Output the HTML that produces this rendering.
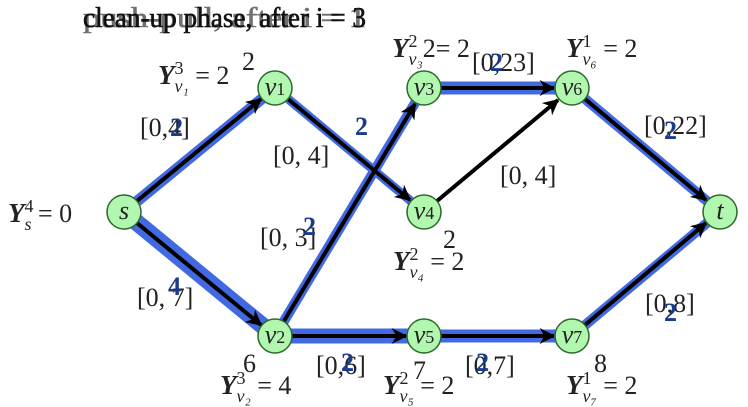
<!DOCTYPE html>
<html><head><style>
body{margin:0;background:#fff}
svg{display:block}
text{font-family:"Liberation Serif",serif;font-size:26px;fill:#222}
.b{fill:#1a3a8a;font-weight:bold}
.i{font-style:italic}
.Y{font-weight:bold;font-style:italic;font-size:27px}
.s{font-size:18px}
.t{font-size:28px;fill:#111;stroke:#111;stroke-width:0.6}
</style></head><body>
<svg width="748" height="407" viewBox="0 0 748 407">
<defs><marker id="a" viewBox="0 0 10 10" refX="9" refY="5" markerWidth="4" markerHeight="4" orient="auto"><path d="M0,0L10,5L0,10L3,5z" fill="#000"/></marker></defs>
<g stroke="#4169e1" stroke-linecap="butt">
<line x1="124" y1="212" x2="275" y2="88" stroke-width="11"/>
<line x1="275" y1="88" x2="424" y2="212" stroke-width="9"/>
<line x1="124" y1="212" x2="275" y2="336" stroke-width="17"/>
<line x1="275" y1="336" x2="424" y2="88" stroke-width="10"/>
<line x1="424" y1="88" x2="572" y2="88" stroke-width="13"/>
<line x1="572" y1="88" x2="720" y2="212" stroke-width="10"/>
<line x1="275" y1="336" x2="424" y2="336" stroke-width="15"/>
<line x1="424" y1="336" x2="572" y2="336" stroke-width="13"/>
<line x1="572" y1="336" x2="720" y2="212" stroke-width="10"/>
</g>
<g stroke="#000" stroke-width="4" marker-end="url(#a)">
<line x1="137" y1="201" x2="261" y2="99"/>
<line x1="288" y1="99" x2="410" y2="200"/>
<line x1="137" y1="223" x2="261" y2="325"/>
<line x1="284" y1="321" x2="415" y2="104"/>
<line x1="441" y1="88" x2="554" y2="88"/>
<line x1="437" y1="201" x2="558" y2="100"/>
<line x1="585" y1="99" x2="706" y2="200"/>
<line x1="292" y1="336" x2="406" y2="336"/>
<line x1="441" y1="336" x2="554" y2="336"/>
<line x1="585" y1="325" x2="706" y2="223"/>
</g>
<g fill="#b2f7b0" stroke="#2a6a2a" stroke-width="1.5">
<circle cx="124" cy="212" r="17"/><circle cx="275" cy="88" r="17"/><circle cx="275" cy="336" r="17"/>
<circle cx="424" cy="88" r="17"/><circle cx="424" cy="212" r="17"/><circle cx="424" cy="336" r="17"/>
<circle cx="572" cy="88" r="17"/><circle cx="572" cy="336" r="17"/><circle cx="720" cy="212" r="17"/>
</g>
<g text-anchor="middle">
<text x="124" y="219" class="i">s</text><text x="275" y="95" class="i">v<tspan class="s" font-style="normal">1</tspan></text>
<text x="275" y="343" class="i">v<tspan class="s" font-style="normal">2</tspan></text><text x="424" y="95" class="i">v<tspan class="s" font-style="normal">3</tspan></text>
<text x="424" y="219" class="i">v<tspan class="s" font-style="normal">4</tspan></text><text x="424" y="343" class="i">v<tspan class="s" font-style="normal">5</tspan></text>
<text x="572" y="95" class="i">v<tspan class="s" font-style="normal">6</tspan></text><text x="572" y="343" class="i">v<tspan class="s" font-style="normal">7</tspan></text>
<text x="720" y="219" class="i">t</text>
</g>
<text x="83" y="27" class="t" textLength="283" lengthAdjust="spacingAndGlyphs">clean-up phase, after i = 3</text>
<text x="83" y="27" class="t" textLength="283" lengthAdjust="spacingAndGlyphs" opacity="0.6">push-pull, after i = 1</text>
<text x="8" y="222"><tspan class="Y">Y</tspan><tspan class="s" dy="-10">4</tspan><tspan class="s i" dx="-9" dy="18">s</tspan><tspan dy="-8"> = 0</tspan></text>
<text x="158" y="84"><tspan class="Y">Y</tspan><tspan class="s" dy="-10">3</tspan><tspan class="s i" dx="-9" dy="18">v₁</tspan><tspan dy="-8"> = 2</tspan></text>
<text x="242" y="70">2</text>
<text x="392" y="57"><tspan class="Y">Y</tspan><tspan class="s" dy="-10">2</tspan><tspan class="s i" dx="-9" dy="18">v₃</tspan><tspan dy="-8">2= 2</tspan></text>
<text x="566" y="57"><tspan class="Y">Y</tspan><tspan class="s" dy="-10">1</tspan><tspan class="s i" dx="-9" dy="18">v₆</tspan><tspan dy="-8"> = 2</tspan></text>
<text x="393" y="270"><tspan class="Y">Y</tspan><tspan class="s" dy="-10">2</tspan><tspan class="s i" dx="-9" dy="18">v₄</tspan><tspan dy="-8"> = 2</tspan></text>
<text x="443" y="248">2</text>
<text x="220" y="394"><tspan class="Y">Y</tspan><tspan class="s" dy="-10">3</tspan><tspan class="s i" dx="-9" dy="18">v₂</tspan><tspan dy="-8"> = 4</tspan></text>
<text x="243" y="372">6</text>
<text x="383" y="394"><tspan class="Y">Y</tspan><tspan class="s" dy="-10">2</tspan><tspan class="s i" dx="-9" dy="18">v₅</tspan><tspan dy="-8"> = 2</tspan></text>
<text x="413" y="379">7</text>
<text x="566" y="394"><tspan class="Y">Y</tspan><tspan class="s" dy="-10">1</tspan><tspan class="s i" dx="-9" dy="18">v₇</tspan><tspan dy="-8"> = 2</tspan></text>
<text x="594" y="372">8</text>
<text x="140" y="136">[0,4]</text><text x="170" y="136" class="b">2</text>
<text x="273" y="164">[0, 4]</text><text x="355" y="135" class="b">2</text>
<text x="260" y="246">[0, 3]</text><text x="303" y="235" class="b">2</text>
<text x="137" y="306">[0, 7]</text><text x="168" y="295" class="b">4</text>
<text x="472" y="71">[0,23]</text><text x="490" y="71" class="b">2</text>
<text x="500" y="184">[0, 4]</text>
<text x="644" y="134">[0,22]</text><text x="664" y="139" class="b">2</text>
<text x="645" y="312">[0,8]</text><text x="664" y="321" class="b">2</text>
<text x="316" y="374">[0,6]</text><text x="341" y="371" class="b">2</text>
<text x="465" y="374">[0,7]</text><text x="476" y="371" class="b">2</text>
</svg>
</body></html>
